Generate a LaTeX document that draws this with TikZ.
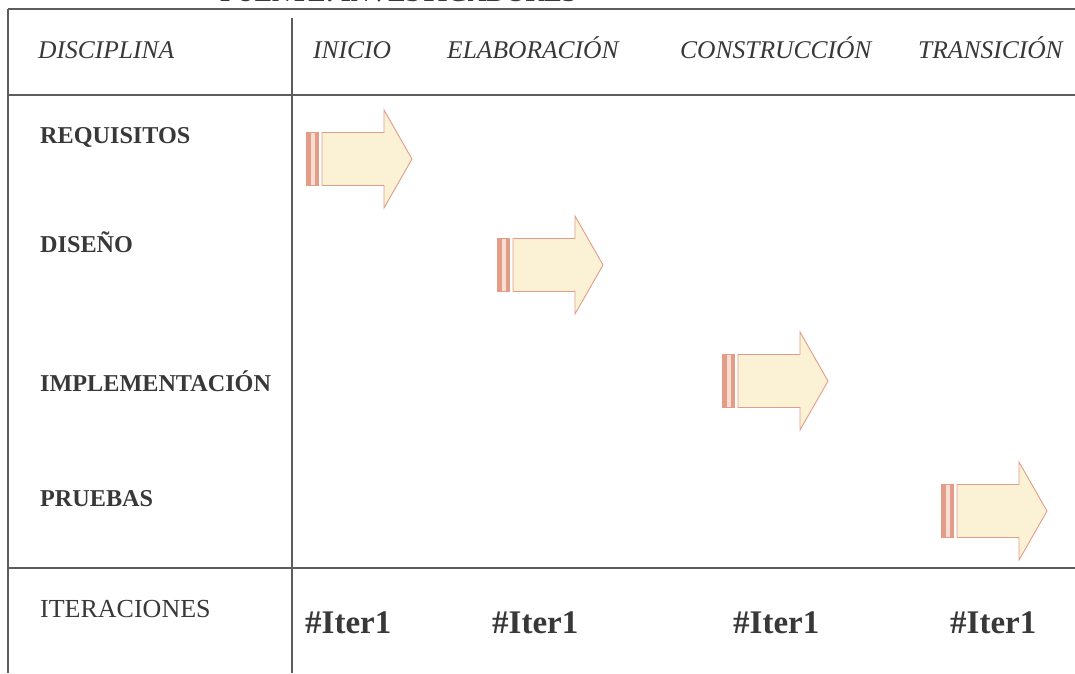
\documentclass[tikz,border=0pt]{standalone}
\usepackage{fontspec}
\setmainfont{Liberation Serif}
\usetikzlibrary{positioning}

\definecolor{rulegray}{HTML}{5C5C5C}
\definecolor{inkgray}{HTML}{383838}
\definecolor{arrowfill}{HTML}{FBF2D6}
\definecolor{arrowline}{HTML}{E39C88}
\definecolor{stripelight}{HTML}{F8DED2}

\begin{document}
\begin{tikzpicture}[x=1pt, y=-1pt,
      rule/.style={draw=rulegray, line width=1.4pt},
      phase/.style={font=\fontsize{25.5}{29}\selectfont\itshape, text=inkgray, inner sep=0pt, anchor=base west},
      disc/.style={font=\fontsize{24.2}{28}\selectfont\bfseries, text=inkgray, inner sep=0pt, anchor=base west},
      iterlbl/.style={font=\fontsize{26}{30}\selectfont, text=inkgray, inner sep=0pt, anchor=base west},
      iter/.style={font=\fontsize{33}{37}\selectfont\bfseries, text=inkgray, inner sep=0pt, anchor=base west},
      flow/.style={draw=arrowline, fill=arrowfill, line width=0.9pt, line join=miter},
      stripe/.style={draw=arrowline, line width=0.6pt},
    ]
    \useasboundingbox (0,0) rectangle (1075,673);

    % caption cut off at the top
    \begin{scope}
      \clip (0,0) rectangle (1075,673);
      \node[iterlbl, font=\fontsize{26}{30}\selectfont\bfseries] (fuente) at (220,1) {FUENTE: INVESTIGADORES};
    \end{scope}

    % table rules
    \draw[rule] (8,9) -- (1075,9);
    \draw[rule] (8,95) -- (1075,95);
    \draw[rule] (8,568) -- (1075,568);
    \draw[rule] (8,9) -- (8,673);
    \draw[rule] (292,18) -- (292,673);

    % header row
    \node[phase] (disciplina) at (38,58) {DISCIPLINA};
    \node[phase] (inicio) at (313,58) {INICIO};
    \node[phase] (elaboracion) at (447,58) {ELABORACIÓN};
    \node[phase] (construccion) at (680,58) {CONSTRUCCIÓN};
    \node[phase] (transicion) at (918,58) {TRANSICIÓN};

    % disciplines
    \node[disc] (requisitos) at (40,143) {REQUISITOS};
    \node[disc] (diseno) at (40,252) {DISEÑO};
    \node[disc] (implementacion) at (40,391) {IMPLEMENTACIÓN};
    \node[disc] (pruebas) at (40,506) {PRUEBAS};

    % iterations
    \node[iterlbl] (iteraciones) at (40,617) {ITERACIONES};
    \node[iter] (iterA) at (305,633) {\#Iter1};
    \node[iter] (iterB) at (492,633) {\#Iter1};
    \node[iter] (iterC) at (733,633) {\#Iter1};
    \node[iter] (iterD) at (950,633) {\#Iter1};

    % phase arrows
    \foreach \ax/\ay in {306/159, 497/265, 722/381, 941/511} {
      \begin{scope}[shift={(\ax,\ay)}]
        \filldraw[stripe, fill=arrowline] (0,-26.5) rectangle (4,26.5);
        \filldraw[stripe, fill=stripelight] (4,-26.5) rectangle (9,26.5);
        \filldraw[stripe, fill=arrowline] (9,-26.5) rectangle (12,26.5);
        \draw[flow] (16,-26.5) -- (78,-26.5) -- (78,-49) -- (106,0) -- (78,49) -- (78,26.5) -- (16,26.5) -- cycle;
      \end{scope}
    }
  \end{tikzpicture}
\end{document}
